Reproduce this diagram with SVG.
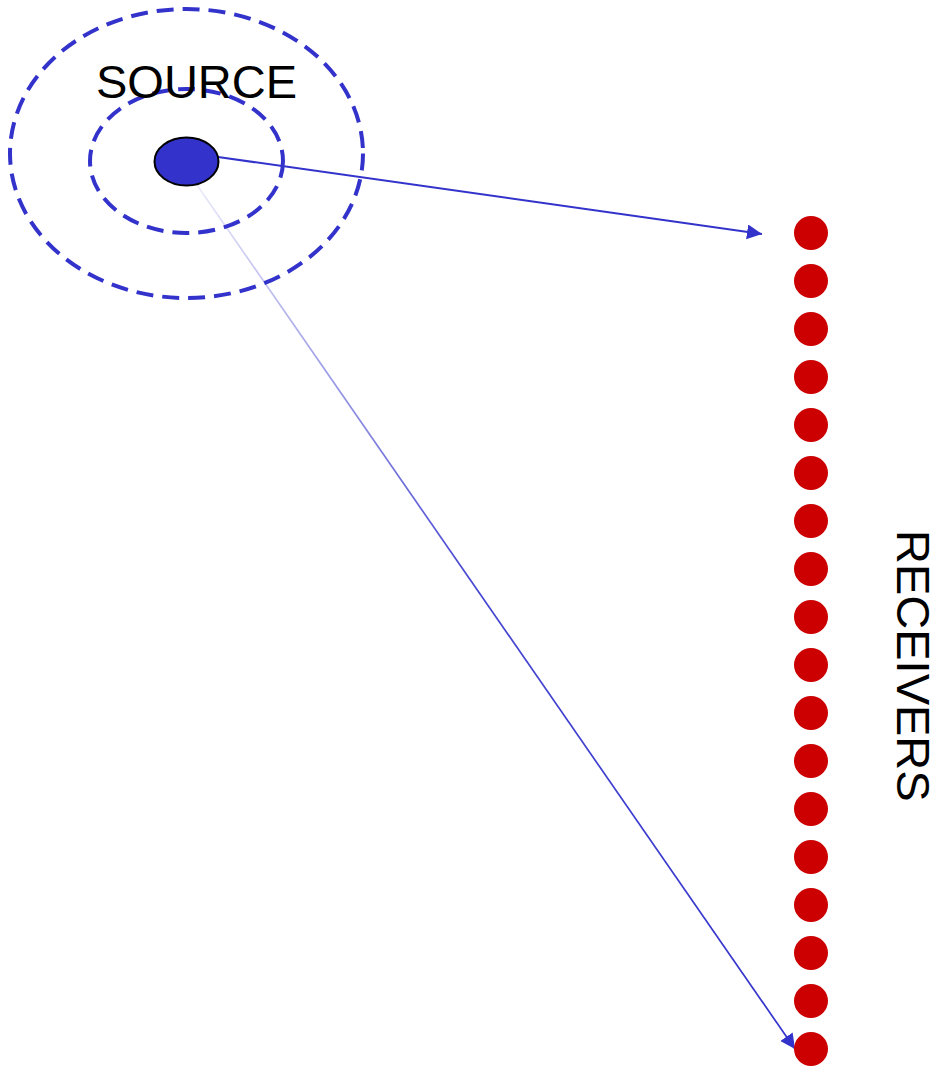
<svg xmlns="http://www.w3.org/2000/svg" width="941" height="1067" viewBox="0 0 941 1067">
<style>
.ring{fill:none;stroke:#3333cc;stroke-width:4;stroke-dasharray:17 9}
.rx{fill:#cc0000}
.lbl{font-family:"Liberation Sans",Arial,sans-serif;fill:#000}
.conn{fill:none;stroke:#3333cc}
</style>
<defs>
<marker id="ah" markerUnits="userSpaceOnUse" markerWidth="18" markerHeight="18" refX="15" refY="7.5" orient="auto">
<path d="M0,0 L15,7.5 L0,15 Z" fill="#3333cc"/>
</marker>
<linearGradient id="fade" gradientUnits="userSpaceOnUse" x1="197" y1="185" x2="795" y2="1049">
<stop offset="0" stop-color="#3333cc" stop-opacity="0.1"/>
<stop offset="0.45" stop-color="#3333cc" stop-opacity="0.9"/>
<stop offset="1" stop-color="#3333cc" stop-opacity="1"/>
</linearGradient>
</defs>
<g id="waves">
<ellipse class="ring" cx="186.5" cy="153.5" rx="176.5" ry="144.5"/>
<ellipse class="ring" cx="186.5" cy="161" rx="96.5" ry="72"/>
</g>
<g id="source-label"><text class="lbl" x="96" y="98" font-size="47">SOURCE</text></g>
<g id="connectors">
<line class="conn" x1="218" y1="157" x2="762" y2="234" stroke-width="2" marker-end="url(#ah)"/>
<line x1="197" y1="185" x2="795" y2="1049" stroke="url(#fade)" stroke-width="1.7" fill="none" marker-end="url(#ah)"/>
</g>
<g id="source"><ellipse cx="186.5" cy="161.5" rx="32" ry="24" fill="#3333cc" stroke="#000" stroke-width="2"/></g>
<g id="receivers">
<circle class="rx" cx="811" cy="233" r="17"/>
<circle class="rx" cx="811" cy="281" r="17"/>
<circle class="rx" cx="811" cy="329" r="17"/>
<circle class="rx" cx="811" cy="377" r="17"/>
<circle class="rx" cx="811" cy="425" r="17"/>
<circle class="rx" cx="811" cy="473" r="17"/>
<circle class="rx" cx="811" cy="521" r="17"/>
<circle class="rx" cx="811" cy="569" r="17"/>
<circle class="rx" cx="811" cy="617" r="17"/>
<circle class="rx" cx="811" cy="665" r="17"/>
<circle class="rx" cx="811" cy="713" r="17"/>
<circle class="rx" cx="811" cy="761" r="17"/>
<circle class="rx" cx="811" cy="809" r="17"/>
<circle class="rx" cx="811" cy="857" r="17"/>
<circle class="rx" cx="811" cy="905" r="17"/>
<circle class="rx" cx="811" cy="953" r="17"/>
<circle class="rx" cx="811" cy="1001" r="17"/>
<circle class="rx" cx="811" cy="1049" r="17"/>
</g>
<g id="receivers-label"><text class="lbl" font-size="47" transform="translate(897,530) rotate(90)">RECEIVERS</text></g>
</svg>
